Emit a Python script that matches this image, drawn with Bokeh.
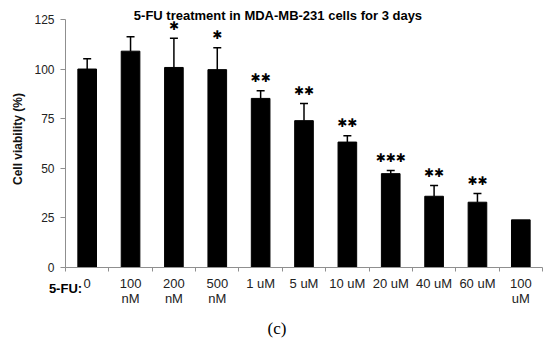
from bokeh.plotting import figure
from bokeh.models import (Range1d, FixedTicker, ColumnDataSource, Whisker, TeeHead, Label,
                          LabelSet, Title)
from bokeh.core.properties import value
from bokeh.embed import file_html
from bokeh.resources import INLINE

# ---- data ----
categories = ["0", "100\nnM", "200\nnM", "500\nnM", "1 uM", "5 uM", "10 uM", "20 uM", "40 uM", "60 uM", "100\nuM"]
viability = [100, 109, 100.8, 99.7, 85.2, 74, 63.2, 47.3, 35.9, 32.9, 24.0]
sd = [5.2, 7.3, 14.7, 11.0, 3.8, 8.6, 3.2, 1.6, 5.4, 4.4, 0]
stars = ["", "", "✱", "✱", "✱✱", "✱✱", "✱✱", "✱✱✱", "✱✱", "✱✱", ""]
y_ticks = [0, 25, 50, 75, 100, 125]

n = len(categories)
xs = [i + 0.5 for i in range(n)]
upper = [v + s for v, s in zip(viability, sd)]
has_err = [s > 0 for s in sd]

p = figure(width=550, height=356, output_backend="svg", toolbar_location=None,
           x_range=Range1d(0, n), y_range=Range1d(0, 129.5),
           min_border_left=65, min_border_right=8, min_border_top=10, min_border_bottom=89)
p.outline_line_color = None
p.xgrid.visible = False
p.ygrid.visible = False
p.background_fill_color = "white"

src = ColumnDataSource(dict(x=xs, top=viability, upper=upper, lower=viability,
                            star=stars, star_y=[u + 6.3 for u in upper]))
p.vbar(x="x", top="top", width=0.43, bottom=0, source=src, fill_color="black", line_color="black")

err_src = ColumnDataSource(dict(x=[x for x, h in zip(xs, has_err) if h],
                                upper=[u for u, h in zip(upper, has_err) if h],
                                lower=[v for v, h in zip(viability, has_err) if h]))
w = Whisker(base="x", upper="upper", lower="lower", source=err_src, dimension="height",
            line_color="black", line_width=1.5,
            upper_head=TeeHead(size=8, line_color="black", line_width=1.5), lower_head=None)
p.add_layout(w)

stars_ls = LabelSet(x="x", y="star_y", text="star", source=src, text_align="center",
                    text_baseline="middle", text_font=value("DejaVu Sans"),
                    text_font_size="12px", text_color="black")
p.add_layout(stars_ls)

# axes
axis_color = "#8f8f8f"
p.yaxis.ticker = FixedTicker(ticks=y_ticks)
p.yaxis.bounds = (0, 125)
p.yaxis.axis_line_color = axis_color
p.yaxis.major_tick_line_color = axis_color
p.yaxis.major_tick_out = 5
p.yaxis.major_tick_in = 0
p.yaxis.minor_tick_line_color = None
p.yaxis.major_label_text_font = "Liberation Sans"
p.yaxis.major_label_text_font_size = "12px"
p.yaxis.major_label_text_color = "#222222"
p.yaxis.major_label_standoff = 6
p.yaxis.axis_label = "Cell viability (%)"
p.yaxis.axis_label_text_font = "Liberation Sans"
p.yaxis.axis_label_text_font_style = "bold"
p.yaxis.axis_label_text_font_size = "12px"
p.yaxis.axis_label_text_color = "#111111"
p.yaxis.axis_label_standoff = 6

p.xaxis.ticker = FixedTicker(ticks=xs, minor_ticks=list(range(n + 1)))
p.xaxis.major_label_overrides = {x: c for x, c in zip(xs, categories)}
p.xaxis.axis_line_color = axis_color
p.xaxis.major_tick_line_color = None
p.xaxis.minor_tick_line_color = axis_color
p.xaxis.minor_tick_in = 0
p.xaxis.minor_tick_out = 4
p.xaxis.major_tick_out = 0
p.xaxis.major_tick_in = 0
p.xaxis.major_label_standoff = 4
p.xaxis.major_label_text_font = "Liberation Sans"
p.xaxis.major_label_text_font_size = "13px"
p.xaxis.major_label_text_line_height = 1.0
p.xaxis.major_label_text_color = "#222222"
# "5-FU:" row label, drawn as the x axis label pulled up beside the first tick label row
p.xaxis.axis_label = "5-FU:"
p.xaxis.axis_label_align = "start"
p.xaxis.axis_label_text_align = "right"
p.xaxis.axis_label_standoff = -28
p.xaxis.axis_label_text_font = "Liberation Sans"
p.xaxis.axis_label_text_font_style = "bold"
p.xaxis.axis_label_text_font_size = "13px"
p.xaxis.axis_label_text_color = "black"

p.add_layout(Label(x=4.9, y=127.2, text="5-FU treatment in MDA-MB-231 cells for 3 days",
                   text_align="center", text_baseline="middle", text_font="Liberation Sans",
                   text_font_style="bold", text_font_size="13px", text_color="black"))
p.add_layout(Title(text="(c)", align="left", offset=202, standoff=37,
                   text_font="Liberation Serif", text_font_size="17px", text_color="black",
                   text_font_style="normal"), "below")

open("out.html", "w").write(file_html(p, INLINE))
